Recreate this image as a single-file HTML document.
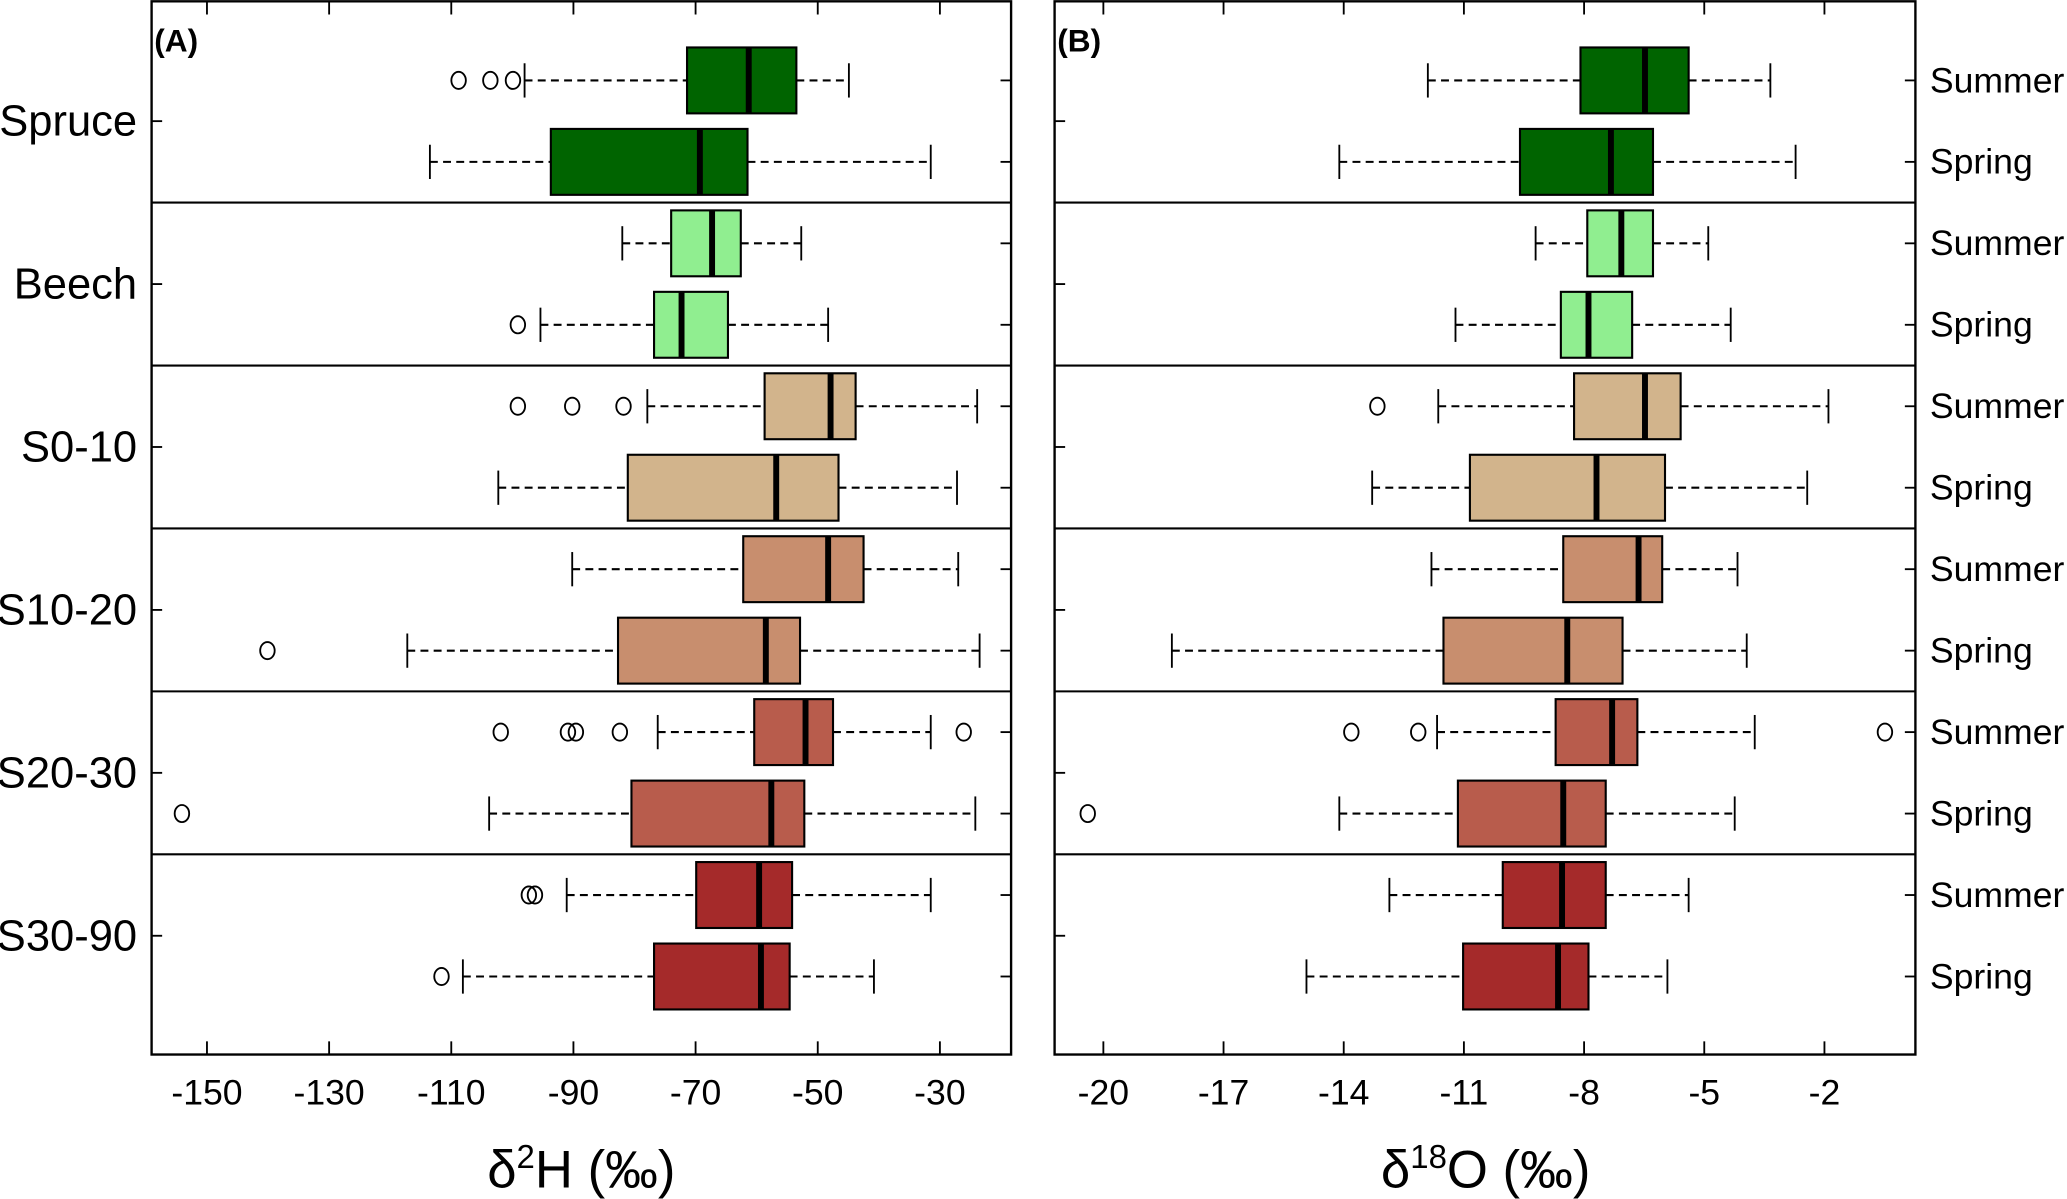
<!DOCTYPE html>
<html><head><meta charset="utf-8"><style>
html,body{margin:0;padding:0;background:#fff;}
svg{display:block;font-family:"Liberation Sans",Arial,sans-serif;}
</style></head><body>
<svg id="chart" width="2067" height="1199" viewBox="0 0 1568 909.6" preserveAspectRatio="none" xmlns="http://www.w3.org/2000/svg"></svg>
<script>
const groups = ["Spruce","Beech","S0-10","S10-20","S20-30","S30-90"];
const seasons = ["Summer","Spring"];
const colors = ["#006400","#90EE90","#D2B48C","#C88E6E","#B85C4C","#A52A2A"];
// each entry: [whiskerLow, q1, median, q3, whiskerHigh]; row order: g0 summer, g0 spring, g1 summer...
const statsH = [
 [-98,-71.4,-61.3,-53.5,-44.9],[-113.5,-93.7,-69.3,-61.5,-31.5],
 [-82,-74,-67.3,-62.6,-52.7],[-95.4,-76.8,-72.3,-64.7,-48.3],
 [-77.9,-58.7,-47.9,-43.8,-23.9],[-102.3,-81.1,-56.8,-46.6,-27.2],
 [-90.2,-62.2,-48.3,-42.5,-27],[-117.2,-82.7,-58.5,-52.9,-23.5],
 [-76.2,-60.4,-52,-47.5,-31.5],[-103.8,-80.5,-57.6,-52.2,-24.2],
 [-91.1,-69.9,-59.6,-54.2,-31.5],[-108.1,-76.8,-59.3,-54.6,-40.8]];
const outH = [[-108.8,-103.6,-99.9],[],[],[-99.1],[-99.1,-90.2,-81.8],[],[],[-140.1],[-101.9,-90.9,-89.6,-82.4,-26.1],[-154.1],[-97.3,-96.3],[-111.6]];
const statsO = [
 [-11.9,-8.09,-6.48,-5.39,-3.35],[-14.11,-9.6,-7.33,-6.28,-2.72],
 [-9.21,-7.92,-7.07,-6.28,-4.9],[-11.21,-8.58,-7.89,-6.8,-4.34],
 [-11.64,-8.25,-6.48,-5.59,-1.9],[-13.29,-10.85,-7.69,-5.98,-2.43],
 [-11.81,-8.52,-6.64,-6.05,-4.17],[-18.29,-11.51,-8.42,-7.04,-3.94],
 [-11.67,-8.71,-7.3,-6.67,-3.74],[-14.11,-11.15,-8.52,-7.46,-4.24],
 [-12.86,-10.03,-8.55,-7.46,-5.39],[-14.93,-11.02,-8.65,-7.89,-5.92]];
const outO = [[],[],[],[],[-13.16],[],[],[],[-13.81,-12.14,-0.49],[-20.39],[],[]];
const ticksH = [-150,-130,-110,-90,-70,-50,-30];
const ticksO = [-20,-17,-14,-11,-8,-5,-2];

const svg = document.getElementById('chart');
const NS = "http://www.w3.org/2000/svg";
function mk(tag, at, parent){const e=document.createElementNS(NS,tag);for(const k in at)e.setAttribute(k,at[k]);(parent||svg).appendChild(e);return e;}
const TOP=1, BOT=800;
const rowY = i => 61 + 61.8*i;
const panels = [
 {L:115,R:767,x:v=>157+(v+150)*(556/120),stats:statsH,outs:outH,ticks:ticksH,lab:"(A)",name:"panel-a-d2h"},
 {L:800,R:1453,x:v=>837+(v+20)*(547/18),stats:statsO,outs:outO,ticks:ticksO,lab:"(B)",name:"panel-b-d18o"}];
panels.forEach((p,pi)=>{
  const g = mk('g',{});
  
  
  p.stats.forEach((s,i)=>{
    const y=rowY(i), c=colors[Math.floor(i/2)];
    const bg = mk('g',{},g);
    
    
    mk('line',{x1:p.x(s[0]),x2:p.x(s[1]),y1:y,y2:y,stroke:'#000','stroke-width':1.6,'stroke-dasharray':'6,4'},bg);
    mk('line',{x1:p.x(s[3]),x2:p.x(s[4]),y1:y,y2:y,stroke:'#000','stroke-width':1.6,'stroke-dasharray':'6,4'},bg);
    [s[0],s[4]].forEach(v=>mk('line',{x1:p.x(v),x2:p.x(v),y1:y-13,y2:y+13,stroke:'#000','stroke-width':1.4},bg));
    mk('rect',{x:p.x(s[1]),y:y-25,width:p.x(s[3])-p.x(s[1]),height:50,fill:c,stroke:'#000','stroke-width':1.6},bg);
    mk('line',{x1:p.x(s[2]),x2:p.x(s[2]),y1:y-25,y2:y+25,stroke:'#000','stroke-width':4.5},bg);
    p.outs[i].forEach(v=>{const o=mk('ellipse',{cx:p.x(v),cy:y,rx:5.5,ry:6.5,fill:'none',stroke:'#000','stroke-width':1.4},bg);
      
      });
  });
  for(let k=1;k<6;k++){const yy=(rowY(2*k-1)+rowY(2*k))/2;mk('line',{x1:p.L,x2:p.R,y1:yy,y2:yy,stroke:'#000','stroke-width':1.6},g);}
  mk('rect',{x:p.L,y:TOP,width:p.R-p.L,height:BOT-TOP,fill:'none',stroke:'#000','stroke-width':1.8},g);
  p.ticks.forEach(t=>{const xx=p.x(t);
    mk('line',{x1:xx,x2:xx,y1:BOT,y2:BOT-10,stroke:'#000','stroke-width':1.4},g);
    mk('line',{x1:xx,x2:xx,y1:TOP,y2:TOP+10,stroke:'#000','stroke-width':1.4},g);
    const tl=mk('text',{x:xx,y:838,'font-size':27,'text-anchor':'middle'},g);tl.textContent=t;
    
    });
  for(let i=0;i<12;i++) mk('line',{x1:p.R-8,x2:p.R,y1:rowY(i),y2:rowY(i),stroke:'#000','stroke-width':1.4},g);
  for(let k=0;k<6;k++){const yy=(rowY(2*k)+rowY(2*k+1))/2;mk('line',{x1:p.L,x2:p.L+8,y1:yy,y2:yy,stroke:'#000','stroke-width':1.4},g);}
  const pl=mk('text',{x:p.L+2,y:39,'font-size':24,'font-weight':'bold'},g);pl.textContent=p.lab;
  
  
});
groups.forEach((gname,k)=>{const yy=(rowY(2*k)+rowY(2*k+1))/2;
  const t=mk('text',{x:104,y:yy+11,'font-size':33,'text-anchor':'end'});t.textContent=gname;
  
  });
for(let i=0;i<12;i++){const t=mk('text',{x:1464,y:rowY(i)+9,'font-size':27});t.textContent=seasons[i%2];
  
  }
const tA=mk('text',{x:441,y:901,'font-size':40,'text-anchor':'middle'});
tA.innerHTML='δ<tspan dy="-15" font-size="25">2</tspan><tspan dy="15">H (‰)</tspan>';


const tB=mk('text',{x:1127,y:901,'font-size':40,'text-anchor':'middle'});
tB.innerHTML='δ<tspan dy="-15" font-size="25">18</tspan><tspan dy="15">O (‰)</tspan>';


</script>
</body></html>
